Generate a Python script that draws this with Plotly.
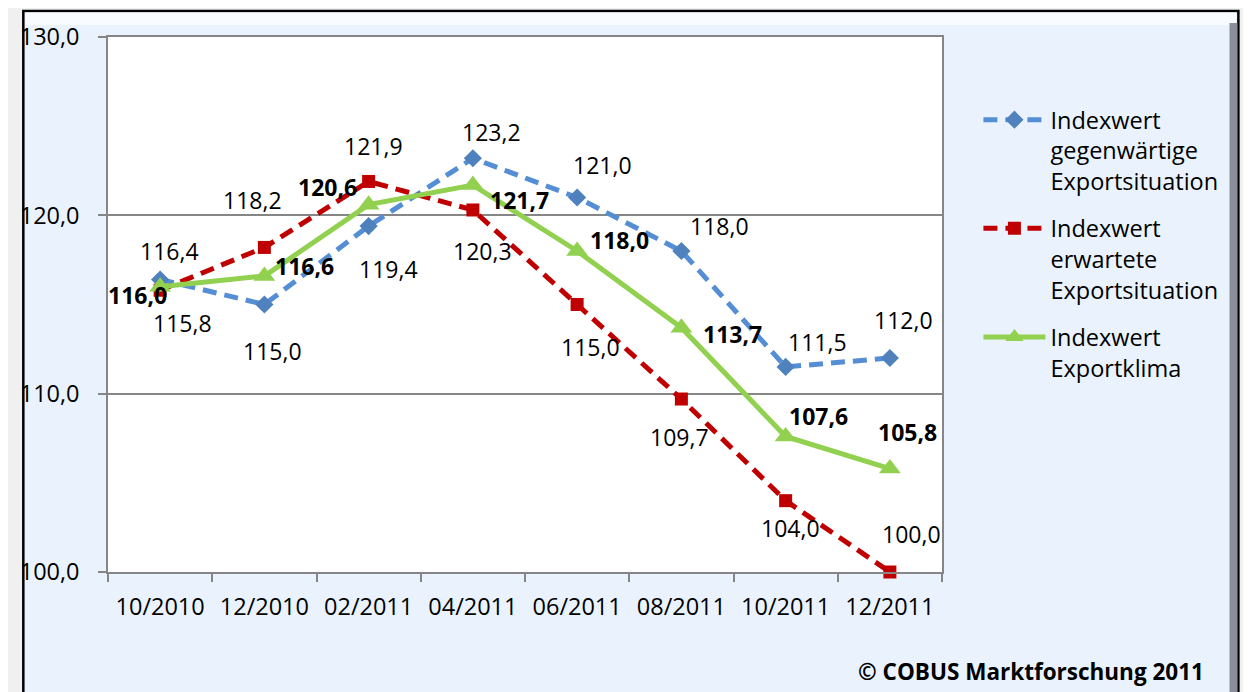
import plotly.graph_objects as go

categories = ["10/2010", "12/2010", "02/2011", "04/2011", "06/2011", "08/2011", "10/2011", "12/2011"]
current_export = [116.4, 115.0, 119.4, 123.2, 121.0, 118.0, 111.5, 112.0]
expected_export = [115.8, 118.2, 121.9, 120.3, 115.0, 109.7, 104.0, 100.0]
export_climate = [116.0, 116.6, 120.6, 121.7, 118.0, 113.7, 107.6, 105.8]
y_ticks = [100, 110, 120, 130]
y_tick_labels = ["100,0", "110,0", "120,0", "130,0"]

names = ["Indexwert<br>gegenwärtige<br>Exportsituation",
         "Indexwert<br>erwartete<br>Exportsituation",
         "Indexwert<br>Exportklima"]

# label offsets in pixels (dx right, dy down) per series
off_blue = [(9, -29), (8, 46), (20, 43), (19, -26), (25, -33), (38, -25), (32, -25), (14, -38)]
off_red = [(22, 33), (-12, -47), (5, -35), (10, 41), (13, 42), (-2, 38), (5, 27), (22, -38)]
off_green = [(-23, 8), (40, -10), (-41, -18), (47, 15), (42, -11), (51, 6), (33, -20), (18, -37)]

FONT = "Open Sans"
BLUE = "#558ED5"
BLUE_M = "#4F81BD"
RED = "#C00000"
GREEN = "#92D050"

fig = go.Figure()
fig.add_trace(go.Scatter(x=categories, y=current_export, name=names[0], mode="lines+markers",
                         legendgroup="a",
                         line=dict(color=BLUE, width=5, dash="14px,8px"),
                         marker=dict(symbol="diamond", size=14, color=BLUE_M), cliponaxis=False))
fig.add_trace(go.Scatter(x=categories, y=expected_export, name=names[1], mode="lines+markers",
                         legendgroup="b",
                         line=dict(color=RED, width=5, dash="14px,8px"),
                         marker=dict(symbol="square", size=13, color=RED), cliponaxis=False))
fig.add_trace(go.Scatter(x=categories, y=export_climate, name=names[2], mode="lines+markers",
                         legendgroup="c",
                         line=dict(color=GREEN, width=5),
                         marker=dict(symbol="triangle-up", size=19, color=GREEN), cliponaxis=False))

annotations = []
def add_labels(values, offsets, bold):
    for c, v, (dx, dy) in zip(categories, values, offsets):
        txt = f"{v:.1f}".replace(".", ",")
        if bold:
            txt = f"<b>{txt}</b>"
        annotations.append(dict(x=c, y=v, xref="x", yref="y", text=txt, showarrow=False,
                                xshift=dx, yshift=-dy, xanchor="center", yanchor="middle",
                                font=dict(family=FONT, size=23, color="#000000")))
add_labels(current_export, off_blue, False)
add_labels(expected_export, off_red, False)
add_labels(export_climate, off_green, True)

# page offset: the figure is placed at (8, 8) in the page
OX, OY = 8, 8
W, H = 1235, 684
L, R, T, B = 87, 301, 28, 120
pw, ph = W - L - R, H - T - B
def px(x):
    return (x - OX - L) / pw
def py(y):
    return (H - B - (y - OY)) / ph

annotations.append(dict(xref="paper", yref="paper", x=px(1210), y=py(672), xanchor="right", yanchor="middle",
                        text="<b>© COBUS Marktforschung 2011</b>", showarrow=False,
                        font=dict(family=FONT, size=22.5, color="#000000")))

shapes = [
    dict(type="rect", xref="paper", yref="paper", x0=px(9), x1=px(1243), y0=py(10), y1=py(705),
         fillcolor="#EAF3FD", line=dict(color="#000000", width=2.5), layer="below"),
    dict(type="rect", xref="paper", yref="paper", x0=px(11), x1=px(1241), y0=py(11.5), y1=py(24),
         fillcolor="#F8FBFF", line=dict(width=0), layer="below"),
    dict(type="rect", xref="paper", yref="paper", x0=px(1234), x1=px(1242), y0=py(22), y1=py(705),
         fillcolor="#8A8F99", line=dict(width=0), layer="below"),
    dict(type="rect", xref="paper", yref="paper", x0=0, x1=1, y0=0, y1=1,
         fillcolor="#FFFFFF", line=dict(width=0), layer="below"),
]

fig.update_layout(
    width=W, height=H,
    margin=dict(l=L, r=R, t=T, b=B, pad=0),
    paper_bgcolor="#F0F0F0",
    plot_bgcolor="#FFFFFF",
    font=dict(family=FONT, size=23, color="#000000"),
    showlegend=True,
    legend=dict(x=px(979), y=py(97), xanchor="left", yanchor="top", bgcolor="rgba(0,0,0,0)",
                font=dict(family=FONT, size=23.5, color="#000000"), valign="top",
                itemwidth=62, tracegroupgap=14),
    annotations=annotations,
    shapes=shapes,
    xaxis=dict(type="category", range=[-0.5, 7.5], showgrid=False, showline=True, linecolor="#868686",
               linewidth=1.5, mirror=True, ticks="outside", tickson="boundaries", ticklen=8,
               tickcolor="#868686", tickwidth=1.5, ticklabelstandoff=13,
               tickfont=dict(family=FONT, size=23.5, color="#000000")),
    yaxis=dict(range=[100, 130], tickvals=y_ticks, ticktext=y_tick_labels, showgrid=True,
               gridcolor="#868686", gridwidth=1.5, showline=True, linecolor="#868686", linewidth=1.5,
               mirror=True, ticks="outside", ticklen=8, tickcolor="#868686", tickwidth=1.5,
               ticklabelstandoff=14, zeroline=False,
               tickfont=dict(family=FONT, size=23.5, color="#000000")),
)

fig.write_html("out.html")
